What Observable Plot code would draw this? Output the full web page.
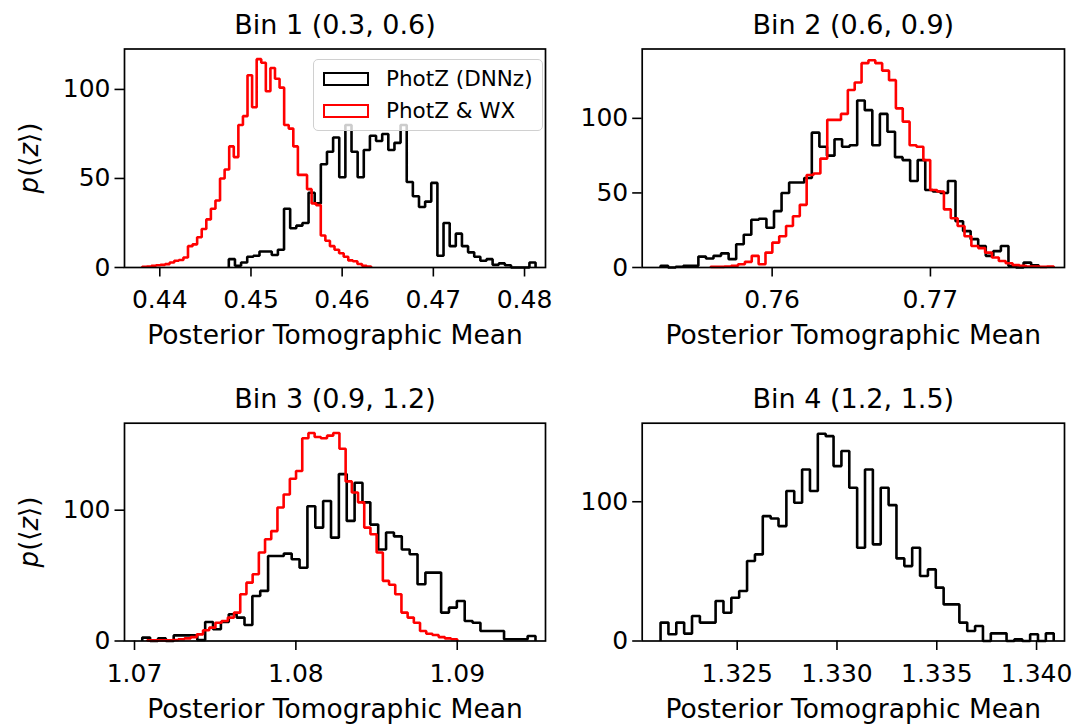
<!DOCTYPE html>
<html><head><meta charset="utf-8">
<script src="https://cdn.jsdelivr.net/npm/d3@7"></script>
<script src="https://cdn.jsdelivr.net/npm/@observablehq/plot@0.6"></script>
<style>
body{margin:0;background:#fff;}
#fig{position:relative;width:1078px;height:724px;overflow:hidden;background:#fff;font-family:"DejaVu Sans",sans-serif;color:#000;}
.panel{position:absolute;z-index:1;}
.ylab{position:absolute;z-index:2;transform:translate(-50%,-50%) rotate(-90deg);font-size:26px;white-space:nowrap;font-family:"DejaVu Sans",sans-serif;}
.legend{position:absolute;z-index:10;left:313px;top:59px;width:230px;height:72px;box-sizing:border-box;background:rgba(255,255,255,0.8);border:1.3px solid #d0d0d0;border-radius:5px;}
.lh{position:absolute;left:9px;width:46px;height:14px;box-sizing:border-box;border-width:2.6px;border-style:solid;}
.lt{position:absolute;left:72px;font-size:21.5px;line-height:24px;transform:translateY(-50%);white-space:nowrap;font-family:"DejaVu Sans",sans-serif;}
</style></head><body><div id="fig"></div><script>
// ---- data (density histograms, 50 bins each) ----
const titles = ["Bin 1 (0.3, 0.6)", "Bin 2 (0.6, 0.9)", "Bin 3 (0.9, 1.2)", "Bin 4 (1.2, 1.5)"];
const xLabel = "Posterior Tomographic Mean";
const legendLabels = ["PhotZ (DNNz)", "PhotZ & WX"];
const seriesColors = ["#000000", "#ff0000"];

// Bin 1
const bin1DnnzRange = [0.44757, 0.48121];
const bin1Dnnz = [4.7,1,2.8,6,6.6,9,9,7,10,33, 22,23.5,25,42,36,58,65,73,50.7,80, 65,50.7,66,74,71,75,66,70,80,48, 40,34,37,47.5,6.6,25,12,19,12,8.5, 6,3.8,4.7,1.5,2.3,1.3,0,0,0,2.8];
const bin1WxRange = [0.43807, 0.46318];
const bin1Wx = [0.4,0.6,0.9,1.3,1.5,1.9,2.8,3.8,4.2,5.6, 12,13,17,21.6,27,33,37.6,50,55,68, 62,80,85,108,90,117,115,99,112,106, 101,80,78,68,52,52,44,36,35,18, 15,12,10,8,6,4,3.5,2,1,0.5];
// Bin 2
const bin2DnnzRange = [0.75295, 0.77684];
const bin2Dnnz = [1.1,0,0.5,1.1,1.1,7.3,6,7.8,9.5,5.6, 15.6,22,32,32.7,26.7,37.8,50,57,57,60, 90.4,81,75,86,81,82,112,105.5,82,103, 91,74,72,58,72,52,51,50,58,31, 24.4,19,14.4,7.8,11,14.4,1,0,3.3,1.5];
const bin2WxRange = [0.75611, 0.77779];
const bin2Wx = [0.4,0.4,0.6,1.1,2.2,3.8,7.8,2.2,10,16.7, 21,27.8,34.4,42,62,63,73,99,99,103, 119,124,137,139,137,132,125.6,106.7,97.8,82, 81,72,52,51,39,33,27.8,21,14.4,13, 10,6.7,4.4,2.9,1.6,1.1,0.7,0.7,0.4,0.7];
// Bin 3
const bin3DnnzRange = [1.07048, 1.09485];
const bin3Dnnz = [2.6,0,2,0,4.3,4.3,4.3,0.8,14.5,9, 14.5,20.4,17.9,12.2,34.4,38.3,65,65,66.8,62.5, 56,103,86.7,107,79,127.6,91.8,121,106,89, 70,83,80,70,66.3,43.4,52.3,52.3,21.7,25.5, 30.6,15.3,14,7.7,7.7,7.7,1.3,1.3,1.3,3.8];
const bin3WxRange = [1.07079, 1.0900];
const bin3Wx = [0.5,0.5,0.5,0.5,0.8,1.3,2,3,5.1,8.2, 10.2,14,15.3,17.9,21.7,35.7,44.6,51,67.6,77.8, 84,102,112,124,130,155,159,156,155,157, 159,147,122,113.5,106,86.7,81.6,67.6,46,43, 35.7,21.7,17.9,14,7.7,5.6,4.6,3,2,1.3];
// Bin 4
const bin4DnnzRange = [1.32116, 1.34086];
const bin4Dnnz = [13.2,4.8,13.2,5.3,18,13.2,13.2,28.7,20.3,31.1, 35.9,57.4,62.2,89.7,88,82.5,107.7,99.3,123.2,107.7, 148.8,147.1,125.6,136.4,110,67,123.2,69.4,110,97.6, 59.3,53.8,67,46.7,51.4,38.3,26.3,26.3,13.2,7.2, 10.8,0,5.5,5.5,0,1.2,0,4.8,0,5.5];

// axis settings
const xDomains = [[0.43613, 0.4823], [0.75179, 0.77847], [1.06938, 1.09547], [1.32024, 1.3414]];
const yDomains = [[0, 122.7], [0, 146.5], [0, 166.5], [0, 156.4]];
const xTickVals = [[0.44, 0.45, 0.46, 0.47, 0.48], [0.76, 0.77], [1.07, 1.08, 1.09], [1.325, 1.330, 1.335, 1.340]];
const xTickFmt = [".2f", ".2f", ".2f", ".3f"];
const yTickVals = [[0, 50, 100], [0, 50, 100], [0, 100], [0, 100]];

// ---- build ----
function stepOutline(vals, range) {
  const [lo, hi] = range, n = vals.length, w = (hi - lo) / n;
  const pts = [{x: lo, y: 0}];
  vals.forEach((v, i) => { pts.push({x: lo + i * w, y: v}); pts.push({x: lo + (i + 1) * w, y: v}); });
  pts.push({x: hi, y: 0});
  return pts;
}
const panelSeries = [
  [[bin1Dnnz, bin1DnnzRange, 0], [bin1Wx, bin1WxRange, 1]],
  [[bin2Dnnz, bin2DnnzRange, 0], [bin2Wx, bin2WxRange, 1]],
  [[bin3Dnnz, bin3DnnzRange, 0], [bin3Wx, bin3WxRange, 1]],
  [[bin4Dnnz, bin4DnnzRange, 0]]
];
const layout = [
  {left: 0, top: 0, width: 560, height: 362, mL: 124, mR: 15, mT: 48.5, mB: 95},
  {left: 560, top: 0, width: 518, height: 362, mL: 81.7, mR: 14, mT: 48.5, mB: 95},
  {left: 0, top: 362, width: 560, height: 362, mL: 124, mR: 15, mT: 60.7, mB: 83.5},
  {left: 560, top: 362, width: 518, height: 362, mL: 81.7, mR: 14, mT: 60.7, mB: 83.5}
];
const fig = document.getElementById("fig");
for (let p = 0; p < 4; p++) {
  const L = layout[p];
  const marks = [];
  for (const [vals, range, ci] of panelSeries[p]) {
    marks.push(Plot.line(stepOutline(vals, range), {x: "x", y: "y", stroke: seriesColors[ci], strokeWidth: 2.6, strokeLinejoin: "miter", strokeLinecap: "butt"}));
  }
  marks.push(Plot.frame({stroke: "black", strokeWidth: 1.7}));
  marks.push(Plot.axisX({ticks: xTickVals[p], tickFormat: d3.format(xTickFmt[p]), tickSize: 9.5, tickPadding: 13.5, fontSize: 25, label: null, strokeWidth: 1.6}));
  marks.push(Plot.axisY({ticks: yTickVals[p], tickFormat: d3.format("d"), tickSize: 9.5, tickPadding: 4.5, fontSize: 25, label: null, strokeWidth: 1.6}));
  marks.push(Plot.text([titles[p]], {text: d => d, frameAnchor: "top", lineAnchor: "middle", dy: -23.6, fontSize: 27}));
  marks.push(Plot.text([xLabel], {text: d => d, frameAnchor: "bottom", lineAnchor: "middle", dy: 68.5, fontSize: 26.5}));
  const svg = Plot.plot({
    width: L.width, height: L.height,
    marginLeft: L.mL, marginRight: L.mR, marginTop: L.mT, marginBottom: L.mB,
    x: {domain: xDomains[p]}, y: {domain: yDomains[p]},
    style: {fontFamily: "DejaVu Sans", fontSize: "25px", color: "black", background: "transparent", overflow: "visible"},
    marks
  });
  svg.classList.add("panel");
  svg.style.left = L.left + "px";
  svg.style.top = L.top + "px";
  fig.appendChild(svg);
}
// y labels (left column)
[[29, 157.75], [29, 531.6]].forEach(([cx, cy]) => {
  const d = document.createElement("div");
  d.className = "ylab";
  d.style.left = cx + "px"; d.style.top = cy + "px";
  d.innerHTML = "<i>p</i>(\u27E8<i>z</i>\u27E9)";
  fig.appendChild(d);
});
// legend (panel 1)
const lg = document.createElement("div");
lg.className = "legend";
legendLabels.forEach((lab, i) => {
  const h = document.createElement("div");
  h.className = "lh";
  h.style.top = (11.5 + i * 32.5) + "px";
  h.style.borderColor = seriesColors[i];
  lg.appendChild(h);
  const t = document.createElement("div");
  t.className = "lt";
  t.style.top = (18.5 + i * 32.5) + "px";
  t.textContent = lab;
  lg.appendChild(t);
});
fig.appendChild(lg);
</script></body></html>
